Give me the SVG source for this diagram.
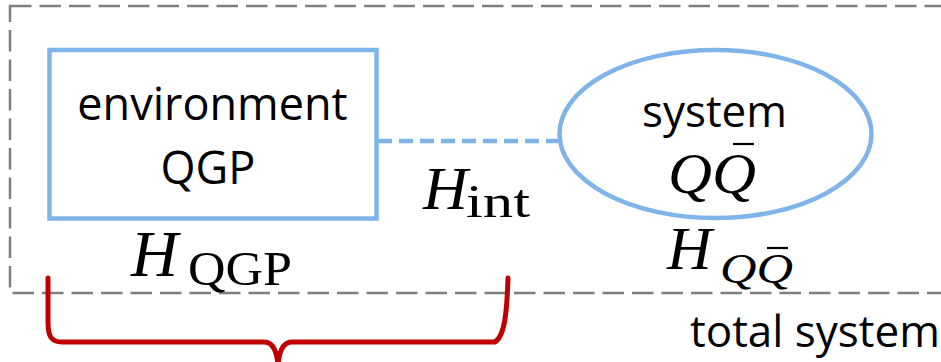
<svg xmlns="http://www.w3.org/2000/svg" width="941" height="362" viewBox="0 0 941 362">
<style>
.node{fill:#fff;stroke:#7eb4e9;stroke-width:4.5}
.lbl{font-family:"Open Sans","Noto Sans",sans-serif;font-weight:400;fill:#000}
.math{font-family:"Liberation Serif","Times New Roman",serif;fill:#000}
.it{font-style:italic}
.bar{stroke:#000;stroke-width:2.2}
</style>
<rect id="total-system-boundary" x="10" y="6" width="960" height="287" fill="none" stroke="#7f7f7f" stroke-width="2.5" stroke-dasharray="21.5 8"/>
<g id="connectors">
<line x1="378" y1="141" x2="558" y2="141" stroke="#7eb4e9" stroke-width="4.5" stroke-dasharray="14 7"/>
</g>
<g id="environment">
<rect class="node" x="49.5" y="50" width="327" height="168.5"/>
<text class="lbl" x="212.5" y="120" font-size="45" text-anchor="middle">environment</text>
<text class="lbl" x="208" y="184" font-size="45" text-anchor="middle">QGP</text>
</g>
<g id="system">
<ellipse class="node" cx="715.5" cy="134" rx="156" ry="84"/>
<text class="lbl" x="714.5" y="127" font-size="44" text-anchor="middle">system</text>
<text class="math it" x="668" y="193" font-size="56" textLength="88" lengthAdjust="spacingAndGlyphs">QQ</text>
<line class="bar" x1="733" y1="144" x2="754" y2="144"/>
</g>
<g id="label-Hint">
<text class="math it" x="423" y="209" font-size="62">H</text>
<text class="math" x="466" y="217" font-size="46" textLength="64" lengthAdjust="spacingAndGlyphs">int</text>
</g>
<g id="label-HQGP">
<text class="math it" x="131" y="276" font-size="65">H</text>
<text class="math" x="188" y="285" font-size="48" textLength="104" lengthAdjust="spacingAndGlyphs">QGP</text>
</g>
<g id="label-HQQ">
<text class="math it" x="667" y="269" font-size="62">H</text>
<text class="math it" x="720" y="283" font-size="42" textLength="73" lengthAdjust="spacingAndGlyphs">QQ</text>
<line class="bar" x1="767" y1="248" x2="788" y2="248"/>
</g>
<g id="brace" fill="none" stroke="#c00000" stroke-width="5" stroke-linecap="round">
<path d="M48 278 L48 322 C48 336 51 342 62 342 L264 342 C272 342 277 350 278 366"/>
<path d="M508 278 C507 310 505 336 495 342 L292 342 C284 342 279 350 278 366"/>
</g>
<text class="lbl" x="690" y="347" font-size="44">total system</text>
</svg>
